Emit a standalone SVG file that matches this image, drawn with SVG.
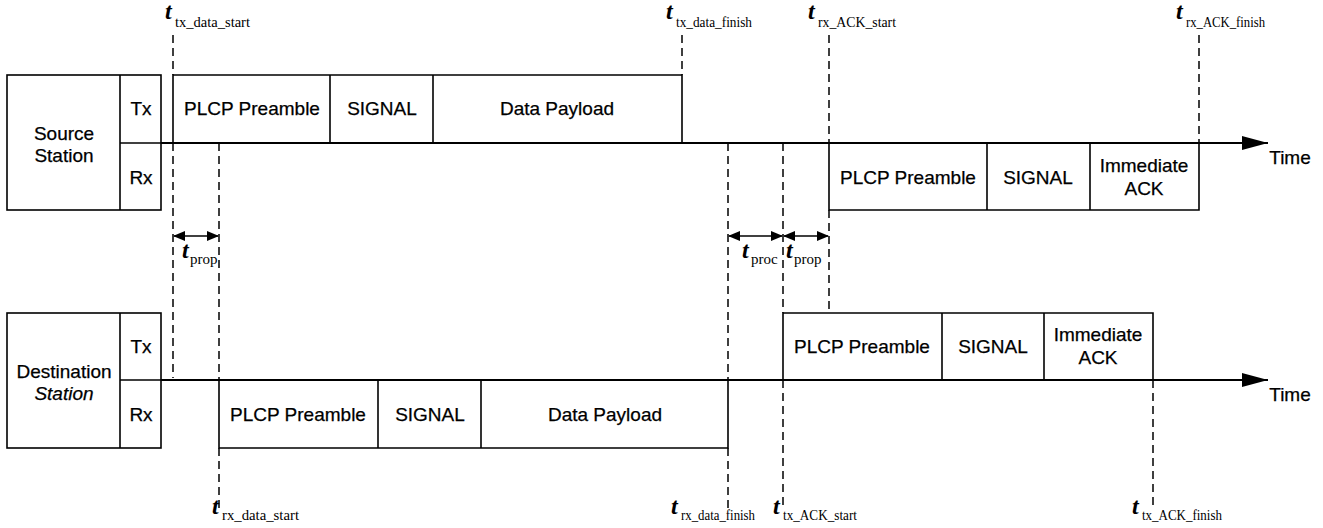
<svg xmlns="http://www.w3.org/2000/svg" width="1323" height="528" viewBox="0 0 1323 528">
<defs>
<style>
.box{fill:none;stroke:#000;stroke-width:1.6}
.ln{stroke:#000;stroke-width:1.6;fill:none}
.tl{stroke:#000;stroke-width:2;fill:none}
.dash{stroke:#000;stroke-width:1.5;stroke-dasharray:8 5;fill:none}
.lbl{font-family:"Liberation Sans",Arial,sans-serif;font-size:19px;fill:#000;stroke:#000;stroke-width:0.25;text-anchor:middle}
.ti{font-family:"Liberation Serif","Times New Roman",serif;font-size:24px;font-weight:bold;font-style:italic;fill:#000}
.sub{font-family:"Liberation Serif","Times New Roman",serif;font-size:15px;fill:#000}
</style>
<marker id="ah" viewBox="0 0 12 10" refX="11" refY="5" markerWidth="12" markerHeight="10" markerUnits="userSpaceOnUse" orient="auto-start-reverse">
<path d="M0,0 L12,5 L0,10 Z" fill="#000"/>
</marker>
<marker id="ta" viewBox="0 0 26 14" refX="26" refY="7" markerWidth="26" markerHeight="14" markerUnits="userSpaceOnUse" orient="auto">
<path d="M0,0 L26,7 L0,14 Z" fill="#000"/>
</marker>
</defs>
<rect width="1323" height="528" fill="#fff"/>

<g id="source-station">
<rect class="box" x="7" y="75" width="154" height="135"/>
<line class="ln" x1="120" y1="75" x2="120" y2="210"/>
<line class="ln" x1="120" y1="143" x2="161" y2="143"/>
<text class="lbl" x="64" y="140">Source</text>
<text class="lbl" x="64" y="162">Station</text>
<text class="lbl" x="141" y="115">Tx</text>
<text class="lbl" x="141" y="184">Rx</text>
</g>

<g id="destination-station">
<rect class="box" x="7" y="313" width="154" height="135"/>
<line class="ln" x1="120" y1="313" x2="120" y2="448"/>
<line class="ln" x1="120" y1="380" x2="161" y2="380"/>
<text class="lbl" x="64" y="378">Destination</text>
<text class="lbl" x="64" y="400" font-style="italic">Station</text>
<text class="lbl" x="141" y="353">Tx</text>
<text class="lbl" x="141" y="421">Rx</text>
</g>

<g id="source-tx-frame">
<polyline class="ln" points="173,143 173,75 682,75 682,143"/>
<line class="ln" x1="330" y1="75" x2="330" y2="143"/>
<line class="ln" x1="433" y1="75" x2="433" y2="143"/>
<text class="lbl" x="252" y="115">PLCP Preamble</text>
<text class="lbl" x="382" y="115">SIGNAL</text>
<text class="lbl" x="557" y="115">Data Payload</text>
</g>

<g id="dest-rx-frame">
<polyline class="ln" points="219,380 219,448 728,448 728,380"/>
<line class="ln" x1="378" y1="380" x2="378" y2="448"/>
<line class="ln" x1="481" y1="380" x2="481" y2="448"/>
<text class="lbl" x="298" y="421">PLCP Preamble</text>
<text class="lbl" x="430" y="421">SIGNAL</text>
<text class="lbl" x="605" y="421">Data Payload</text>
</g>

<g id="dest-tx-ack">
<polyline class="ln" points="783,380 783,313 1153,313 1153,380"/>
<line class="ln" x1="942" y1="313" x2="942" y2="380"/>
<line class="ln" x1="1044" y1="313" x2="1044" y2="380"/>
<text class="lbl" x="862" y="353">PLCP Preamble</text>
<text class="lbl" x="993" y="353">SIGNAL</text>
<text class="lbl" x="1098" y="341">Immediate</text>
<text class="lbl" x="1098" y="364">ACK</text>
</g>

<g id="source-rx-ack">
<polyline class="ln" points="829,143 829,210 1199,210 1199,143"/>
<line class="ln" x1="987" y1="143" x2="987" y2="210"/>
<line class="ln" x1="1090" y1="143" x2="1090" y2="210"/>
<text class="lbl" x="908" y="184">PLCP Preamble</text>
<text class="lbl" x="1038" y="184">SIGNAL</text>
<text class="lbl" x="1144" y="172">Immediate</text>
<text class="lbl" x="1144" y="195">ACK</text>
</g>

<g id="connectors">
<line class="tl" x1="161" y1="143" x2="1268" y2="143" marker-end="url(#ta)"/>
<line class="tl" x1="161" y1="380" x2="1268" y2="380" marker-end="url(#ta)"/>
<line class="dash" x1="173" y1="35" x2="173" y2="75"/>
<line class="dash" x1="173" y1="143" x2="173" y2="378"/>
<line class="dash" x1="219" y1="143" x2="219" y2="380"/>
<line class="dash" x1="219" y1="448" x2="219" y2="510"/>
<line class="dash" x1="682" y1="35" x2="682" y2="75"/>
<line class="dash" x1="728" y1="143" x2="728" y2="380"/>
<line class="dash" x1="728" y1="448" x2="728" y2="510"/>
<line class="dash" x1="783" y1="143" x2="783" y2="313"/>
<line class="dash" x1="783" y1="380" x2="783" y2="510"/>
<line class="dash" x1="829" y1="35" x2="829" y2="143"/>
<line class="dash" x1="829" y1="210" x2="829" y2="313"/>
<line class="dash" x1="1153" y1="380" x2="1153" y2="510"/>
<line class="dash" x1="1199" y1="35" x2="1199" y2="143"/>
<line class="ln" x1="174" y1="236" x2="218" y2="236" marker-start="url(#ah)" marker-end="url(#ah)"/>
<line class="ln" x1="729" y1="236" x2="782" y2="236" marker-start="url(#ah)" marker-end="url(#ah)"/>
<line class="ln" x1="784" y1="236" x2="828" y2="236" marker-start="url(#ah)" marker-end="url(#ah)"/>
</g>

<g id="time-labels">
<text class="lbl" x="1290" y="164">Time</text>
<text class="lbl" x="1290" y="401">Time</text>

<text class="ti" x="165" y="19">t</text><text class="sub" x="175" y="27" textLength="75" lengthAdjust="spacingAndGlyphs">tx_data_start</text>
<text class="ti" x="666" y="19">t</text><text class="sub" x="676" y="27" textLength="76" lengthAdjust="spacingAndGlyphs">tx_data_finish</text>
<text class="ti" x="808" y="19">t</text><text class="sub" x="818" y="27" textLength="78" lengthAdjust="spacingAndGlyphs">rx_ACK_start</text>
<text class="ti" x="1176" y="19">t</text><text class="sub" x="1186" y="27" textLength="79" lengthAdjust="spacingAndGlyphs">rx_ACK_finish</text>

<text class="ti" x="212" y="514">t</text><text class="sub" x="222" y="520" textLength="77" lengthAdjust="spacingAndGlyphs">rx_data_start</text>
<text class="ti" x="671" y="514">t</text><text class="sub" x="681" y="520" textLength="74" lengthAdjust="spacingAndGlyphs">rx_data_finish</text>
<text class="ti" x="773" y="514">t</text><text class="sub" x="783" y="520" textLength="74" lengthAdjust="spacingAndGlyphs">tx_ACK_start</text>
<text class="ti" x="1132" y="514">t</text><text class="sub" x="1142" y="520" textLength="80" lengthAdjust="spacingAndGlyphs">tx_ACK_finish</text>

<text class="ti" x="182" y="258">t</text><text class="sub" x="190" y="264">prop</text>
<text class="ti" x="742" y="258">t</text><text class="sub" x="751" y="264">proc</text>
<text class="ti" x="786" y="258">t</text><text class="sub" x="794" y="264">prop</text>
</g>
</svg>
